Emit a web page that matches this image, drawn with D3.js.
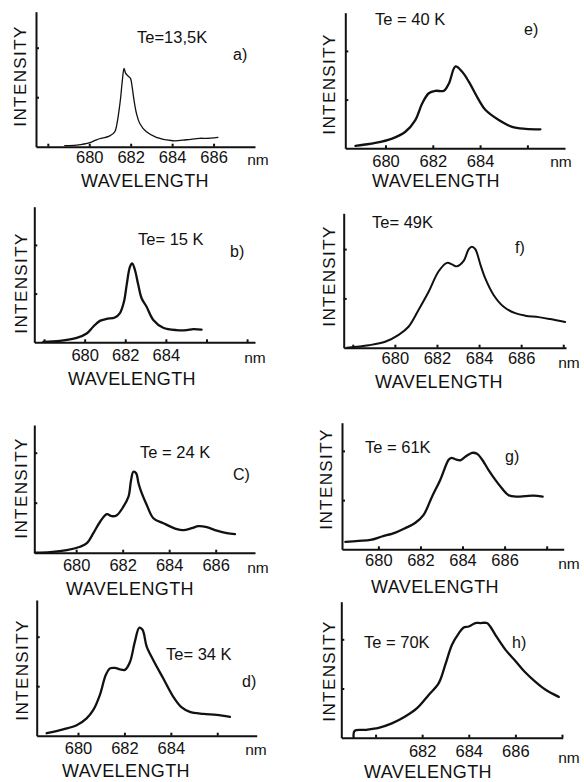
<!DOCTYPE html>
<html><head><meta charset="utf-8">
<script src="https://cdn.jsdelivr.net/npm/d3@7"></script>
<style>
html,body{margin:0;padding:0;background:#fff;}
svg{display:block;}
text{font-family:"Liberation Sans",Arial,Helvetica,sans-serif;fill:#111;}
</style></head>
<body>
<svg id="chart" width="584" height="782"></svg>
<script>
// ---------- DATA ----------
const panelLetters = ["a)", "b)", "C)", "d)", "e)", "f)", "g)", "h)"];
const temperatureLabels = ["Te=13,5K", "Te= 15 K", "Te = 24 K", "Te= 34 K", "Te = 40 K", "Te= 49K", "Te = 61K", "Te = 70K"];
const xAxisTitle = "WAVELENGTH";
const yAxisTitle = "INTENSITY";
const unitLabel = "nm";

const ticksA = [680, 682, 684, 686];
const ticksB = [680, 682, 684];
const ticksC = [680, 682, 684, 686];
const ticksD = [680, 682, 684];
const ticksE = [680, 682, 684];
const ticksF = [680, 682, 684, 686];
const ticksG = [680, 682, 684, 686];
const ticksH = [682, 684, 686];

const wavelengthA = [678.82, 679.39, 680.03, 680.35, 680.99, 681.23, 681.34, 681.44, 681.52, 681.60, 681.68, 681.76, 681.87, 681.99, 682.07, 682.16, 682.28, 682.44, 682.76, 683.24, 684.04, 684.69, 685.33, 685.65, 686.21];
const intensityA  = [0.02, 0.03, 0.08, 0.14, 0.22, 0.30, 0.47, 0.74, 1.01, 1.35, 1.58, 1.48, 1.43, 1.38, 1.21, 0.94, 0.67, 0.47, 0.30, 0.19, 0.12, 0.14, 0.17, 0.17, 0.19];

const wavelengthB = [677.96, 678.78, 679.61, 680.10, 680.42, 680.75, 681.08, 681.49, 681.74, 681.94, 682.07, 682.23, 682.34, 682.48, 682.64, 682.81, 683.05, 683.38, 683.87, 684.53, 685.02, 685.35, 685.76];
const intensityB  = [0.01, 0.03, 0.09, 0.18, 0.32, 0.44, 0.48, 0.51, 0.60, 0.84, 1.18, 1.55, 1.62, 1.48, 1.18, 0.90, 0.73, 0.46, 0.30, 0.25, 0.25, 0.27, 0.26];

const wavelengthC = [678.23, 678.88, 679.60, 680.17, 680.46, 680.74, 681.03, 681.32, 681.53, 681.75, 682.03, 682.25, 682.36, 682.46, 682.58, 682.68, 682.82, 683.04, 683.32, 683.75, 684.33, 684.61, 684.97, 685.26, 685.62, 686.05, 686.48, 686.83];
const intensityC  = [0.00, 0.01, 0.05, 0.12, 0.19, 0.39, 0.62, 0.77, 0.73, 0.75, 0.92, 1.12, 1.45, 1.62, 1.59, 1.39, 1.19, 0.95, 0.69, 0.59, 0.47, 0.45, 0.49, 0.53, 0.51, 0.44, 0.39, 0.37];

const wavelengthD = [678.65, 679.36, 679.94, 680.37, 680.66, 680.94, 681.20, 681.38, 681.59, 681.81, 682.02, 682.24, 682.45, 682.64, 682.78, 682.96, 683.24, 683.67, 684.10, 684.47, 684.82, 685.40, 685.97, 686.55];
const intensityD  = [0.05, 0.13, 0.21, 0.35, 0.52, 0.82, 1.23, 1.36, 1.37, 1.34, 1.33, 1.49, 1.90, 2.18, 2.14, 1.80, 1.53, 1.16, 0.79, 0.57, 0.48, 0.44, 0.42, 0.38];

const wavelengthE = [678.73, 679.57, 680.28, 680.84, 681.26, 681.55, 681.83, 682.11, 682.47, 682.68, 682.96, 683.24, 683.52, 683.95, 684.22, 684.79, 685.35, 685.92, 686.55];
const intensityE  = [0.05, 0.11, 0.20, 0.34, 0.58, 0.92, 1.13, 1.18, 1.18, 1.33, 1.68, 1.57, 1.37, 0.99, 0.79, 0.58, 0.44, 0.40, 0.39];

const wavelengthF = [677.72, 678.76, 679.54, 680.18, 680.66, 681.13, 681.61, 682.08, 682.48, 682.71, 682.95, 683.27, 683.51, 683.66, 683.82, 684.06, 684.29, 684.69, 685.17, 685.72, 686.19, 686.83, 687.38, 688.09];
const intensityF  = [0.00, 0.05, 0.12, 0.26, 0.43, 0.77, 1.14, 1.55, 1.72, 1.69, 1.65, 1.76, 2.00, 2.05, 2.00, 1.69, 1.41, 1.07, 0.83, 0.70, 0.65, 0.62, 0.58, 0.52];

const wavelengthG = [678.43, 679.07, 679.62, 680.17, 680.81, 681.28, 681.76, 682.15, 682.55, 682.94, 683.34, 683.47, 683.66, 683.89, 684.13, 684.45, 684.69, 684.92, 685.24, 685.56, 685.87, 686.19, 686.59, 686.98, 687.38, 687.81];
const intensityG  = [0.15, 0.17, 0.19, 0.26, 0.34, 0.43, 0.54, 0.70, 1.07, 1.41, 1.82, 1.86, 1.83, 1.81, 1.88, 1.96, 1.94, 1.83, 1.61, 1.41, 1.24, 1.10, 1.07, 1.08, 1.09, 1.07];

const wavelengthH = [679.06, 679.10, 679.56, 680.13, 680.70, 681.27, 681.78, 682.28, 682.71, 682.99, 683.28, 683.57, 683.78, 684.00, 684.28, 684.49, 684.78, 684.92, 685.14, 685.57, 686.00, 686.42, 686.85, 687.28, 687.86];
const intensityH  = [0.00, 0.14, 0.16, 0.20, 0.29, 0.43, 0.60, 0.87, 1.11, 1.48, 1.89, 2.12, 2.24, 2.26, 2.33, 2.33, 2.33, 2.26, 2.09, 1.79, 1.56, 1.33, 1.14, 0.98, 0.83];

// ---------- LAYOUT ----------
const series = [
  [wavelengthA, intensityA, ticksA], [wavelengthB, intensityB, ticksB],
  [wavelengthC, intensityC, ticksC], [wavelengthD, intensityD, ticksD],
  [wavelengthE, intensityE, ticksE], [wavelengthF, intensityF, ticksF],
  [wavelengthG, intensityG, ticksG], [wavelengthH, intensityH, ticksH]
];
const layout = [
  {x0:36,   x1:255,   yTop:11.7,  yBase:146.7, unit:49.5, dom:[677.43,688.0], lw:1.3, pad:6,  nm:[258,159], yt:[20,76],    xt:[145,187], te:[137,43],  pl:[233,60]},
  {x0:34.3, x1:255,   yTop:206.7, yBase:342.3, unit:48.7, dom:[677.52,688.39], lw:2.3, pad:8, nm:[255,357], yt:[21,283],   xt:[132,385], te:[138,245], pl:[230,257]},
  {x0:34.3, x1:255,   yTop:425,   yBase:552.7, unit:50,   dom:[678.20,687.69], lw:2.3, pad:8, nm:[258,567], yt:[21,488],   xt:[130,595], te:[140,458], pl:[233,480]},
  {x0:36.7, x1:256.7, yTop:600,   yBase:735.7, unit:49.5, dom:[678.22,687.70], lw:2.3, pad:8, nm:[256,749], yt:[22,670],   xt:[126,777], te:[166,660], pl:[242,687]},
  {x0:345.3,x1:565,   yTop:12.7,  yBase:148.3, unit:48.7, dom:[678.30,687.59], lw:2.3, pad:8, nm:[561,161], yt:[329.5,84], xt:[436,187], te:[375,25],  pl:[524,35]},
  {x0:343.7,x1:566,   yTop:213.3, yBase:347.7, unit:49.3, dom:[677.57,688.13], lw:2.0, pad:6, nm:[569,362], yt:[329.5,276],xt:[439,388], te:[372,228], pl:[515,253]},
  {x0:342,  x1:563.7, yTop:422.7, yBase:549.3, unit:49.2, dom:[678.27,688.81], lw:2.3, pad:6, nm:[569,563], yt:[326,479],  xt:[435,593], te:[365,453], pl:[505,462]},
  {x0:341.3,x1:562.7, yTop:601.7, yBase:737.7, unit:49.2, dom:[678.53,688.03], lw:2.3, pad:9, nm:[569,757], yt:[329,671],  xt:[428,778], te:[364,648], pl:[512,648]}
];

const svg = d3.select("#chart");
svg.append("rect").attr("width",584).attr("height",782).attr("fill","#fff");

series.forEach(([wl, inten, labels], i) => {
  const L = layout[i];
  const x = d3.scaleLinear().domain(L.dom).range([L.x0, L.x1]);
  const yMax = (L.yBase - L.yTop) / L.unit;
  const y = d3.scaleLinear().domain([0, yMax]).range([L.yBase, L.yTop]);
  const g = svg.append("g");

  // x axis
  const allTicks = d3.range(Math.ceil(L.dom[0]/2)*2, L.dom[1], 2);
  const xAxis = d3.axisBottom(x).tickValues(allTicks)
    .tickFormat(d => labels.includes(d) ? String(d) : "")
    .tickSizeInner(-3).tickSizeOuter(0).tickPadding(L.pad - 1);
  const gx = g.append("g").attr("transform", `translate(0,${L.yBase})`).call(xAxis);
  gx.select(".domain").attr("stroke","#111").attr("stroke-width",2);
  gx.selectAll(".tick line").attr("stroke","#111").attr("stroke-width",2);
  gx.selectAll(".tick text").attr("font-size",16.5).attr("fill","#111")
    .attr("font-family",'"Liberation Sans",Arial,sans-serif');

  // y axis
  const yAxis = d3.axisLeft(y).tickValues([1,2]).tickFormat("")
    .tickSizeInner(-3).tickSizeOuter(0);
  const gy = g.append("g").attr("transform", `translate(${L.x0},0)`).call(yAxis);
  gy.select(".domain").attr("stroke","#111").attr("stroke-width",2);
  gy.selectAll(".tick line").attr("stroke","#111").attr("stroke-width",2);

  // curve
  const pts = wl.map((w, k) => [w, inten[k]]);
  const line = d3.line().x(d => x(d[0])).y(d => y(d[1])).curve(d3.curveCatmullRom.alpha(0.5));
  g.append("path").datum(pts).attr("d", line)
    .attr("fill","none").attr("stroke","#111").attr("stroke-width",L.lw)
    .attr("stroke-linejoin","round").attr("stroke-linecap","round");

  // texts
  g.append("text").attr("x",L.nm[0]).attr("y",L.nm[1]).attr("text-anchor","middle")
    .attr("dominant-baseline","central").attr("font-size",15.5).text(unitLabel);
  g.append("text").attr("transform",`translate(${L.yt[0]},${L.yt[1]}) rotate(-90)`)
    .attr("text-anchor","middle").attr("dominant-baseline","central")
    .attr("font-size",17).attr("letter-spacing",1.4).text(yAxisTitle);
  g.append("text").attr("x",L.xt[0]).attr("y",L.xt[1]).attr("text-anchor","middle")
    .attr("font-size",18).attr("letter-spacing",0.4).text(xAxisTitle);
  g.append("text").attr("x",L.te[0]).attr("y",L.te[1]).attr("font-size",16.5).text(temperatureLabels[i]);
  g.append("text").attr("x",L.pl[0]).attr("y",L.pl[1]).attr("font-size",16).text(panelLetters[i]);
});
</script>
</body></html>
